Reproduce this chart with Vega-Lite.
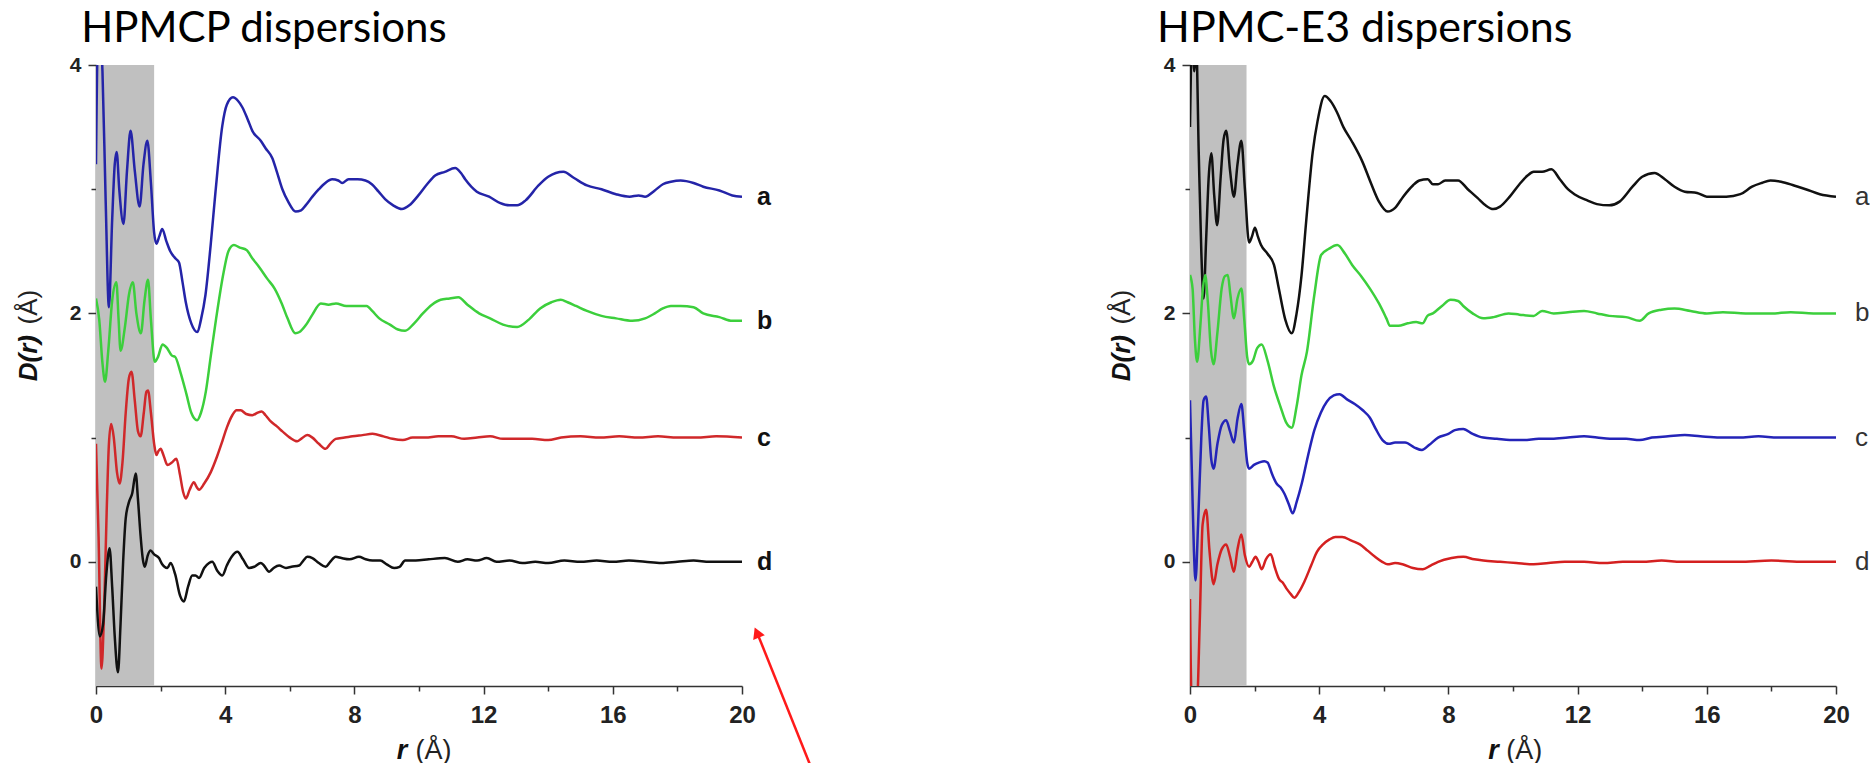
{
"$schema": "https://vega.github.io/schema/vega-lite/v6.json",
"padding": {"left": 16, "top": 7, "right": 0, "bottom": 0},
"bounds": "flush",
"spacing": 448,
"background": "white",
"resolve": {"scale": {"color": "independent"}},
"config": {
  "view": {"stroke": null},
  "axis": {"grid": false, "domainColor": "#333", "domainWidth": 1.5, "tickColor": "#333", "tickWidth": 1.5, "labelFont": "Liberation Sans", "labelFontWeight": "bold", "labelColor": "#222"},
  "text": {"font": "Liberation Sans"}
},
"datasets": {
"left": [
{"s":"a","r":0,"d":3.2},{"s":"a","r":0.06,"d":4.25},{"s":"a","r":0.12,"d":4.3},{"s":"a","r":0.2,"d":3.95},{"s":"a","r":0.3,"d":2.9},{"s":"a","r":0.4,"d":2.05},{"s":"a","r":0.5,"d":2.75},{"s":"a","r":0.58,"d":3.2},{"s":"a","r":0.64,"d":3.3},{"s":"a","r":0.72,"d":3.0},{"s":"a","r":0.85,"d":2.72},{"s":"a","r":0.96,"d":3.15},{"s":"a","r":1.07,"d":3.47},{"s":"a","r":1.2,"d":3.15},{"s":"a","r":1.35,"d":2.86},{"s":"a","r":1.47,"d":3.2},{"s":"a","r":1.59,"d":3.39},{"s":"a","r":1.7,"d":3.05},{"s":"a","r":1.8,"d":2.65},{"s":"a","r":1.87,"d":2.56},{"s":"a","r":1.96,"d":2.62},{"s":"a","r":2.05,"d":2.68},{"s":"a","r":2.18,"d":2.58},{"s":"a","r":2.3,"d":2.5},{"s":"a","r":2.47,"d":2.44},{"s":"a","r":2.57,"d":2.41},{"s":"a","r":2.68,"d":2.25},{"s":"a","r":2.78,"d":2.09},{"s":"a","r":2.95,"d":1.92},{"s":"a","r":3.14,"d":1.85},{"s":"a","r":3.25,"d":1.95},{"s":"a","r":3.39,"d":2.15},{"s":"a","r":3.55,"d":2.55},{"s":"a","r":3.7,"d":2.98},{"s":"a","r":3.91,"d":3.51},{"s":"a","r":4.05,"d":3.68},{"s":"a","r":4.24,"d":3.74},{"s":"a","r":4.4,"d":3.71},{"s":"a","r":4.53,"d":3.66},{"s":"a","r":4.7,"d":3.56},{"s":"a","r":4.84,"d":3.47},{"s":"a","r":5.1,"d":3.39},{"s":"a","r":5.25,"d":3.33},{"s":"a","r":5.46,"d":3.25},{"s":"a","r":5.6,"d":3.14},{"s":"a","r":5.77,"d":3.0},{"s":"a","r":5.95,"d":2.9},{"s":"a","r":6.18,"d":2.82},{"s":"a","r":6.35,"d":2.83},{"s":"a","r":6.49,"d":2.87},{"s":"a","r":6.7,"d":2.94},{"s":"a","r":6.9,"d":3.0},{"s":"a","r":7.1,"d":3.05},{"s":"a","r":7.31,"d":3.08},{"s":"a","r":7.5,"d":3.07},{"s":"a","r":7.62,"d":3.05},{"s":"a","r":7.82,"d":3.08},{"s":"a","r":8.1,"d":3.08},{"s":"a","r":8.34,"d":3.07},{"s":"a","r":8.54,"d":3.04},{"s":"a","r":8.75,"d":2.98},{"s":"a","r":8.95,"d":2.92},{"s":"a","r":9.2,"d":2.87},{"s":"a","r":9.47,"d":2.84},{"s":"a","r":9.7,"d":2.87},{"s":"a","r":9.98,"d":2.95},{"s":"a","r":10.25,"d":3.04},{"s":"a","r":10.5,"d":3.11},{"s":"a","r":10.8,"d":3.14},{"s":"a","r":11.12,"d":3.17},{"s":"a","r":11.3,"d":3.13},{"s":"a","r":11.43,"d":3.08},{"s":"a","r":11.79,"d":2.98},{"s":"a","r":12.17,"d":2.94},{"s":"a","r":12.5,"d":2.89},{"s":"a","r":12.8,"d":2.87},{"s":"a","r":13.04,"d":2.87},{"s":"a","r":13.3,"d":2.91},{"s":"a","r":13.7,"d":3.03},{"s":"a","r":14.0,"d":3.1},{"s":"a","r":14.47,"d":3.14},{"s":"a","r":14.8,"d":3.09},{"s":"a","r":15.2,"d":3.03},{"s":"a","r":15.65,"d":3.0},{"s":"a","r":16.1,"d":2.96},{"s":"a","r":16.52,"d":2.94},{"s":"a","r":16.8,"d":2.95},{"s":"a","r":17.0,"d":2.94},{"s":"a","r":17.3,"d":2.99},{"s":"a","r":17.55,"d":3.04},{"s":"a","r":17.8,"d":3.06},{"s":"a","r":18.1,"d":3.07},{"s":"a","r":18.5,"d":3.05},{"s":"a","r":18.8,"d":3.02},{"s":"a","r":19.3,"d":2.99},{"s":"a","r":19.7,"d":2.95},{"s":"a","r":20,"d":2.94},
{"s":"b","r":0,"d":2.12},{"s":"b","r":0.1,"d":1.95},{"s":"b","r":0.2,"d":1.6},{"s":"b","r":0.28,"d":1.45},{"s":"b","r":0.38,"d":1.7},{"s":"b","r":0.5,"d":2.1},{"s":"b","r":0.63,"d":2.25},{"s":"b","r":0.7,"d":1.95},{"s":"b","r":0.76,"d":1.7},{"s":"b","r":0.9,"d":1.9},{"s":"b","r":1.02,"d":2.15},{"s":"b","r":1.14,"d":2.25},{"s":"b","r":1.25,"d":2.0},{"s":"b","r":1.39,"d":1.84},{"s":"b","r":1.5,"d":2.1},{"s":"b","r":1.61,"d":2.27},{"s":"b","r":1.7,"d":1.95},{"s":"b","r":1.82,"d":1.61},{"s":"b","r":1.92,"d":1.65},{"s":"b","r":2.06,"d":1.75},{"s":"b","r":2.2,"d":1.72},{"s":"b","r":2.35,"d":1.66},{"s":"b","r":2.45,"d":1.65},{"s":"b","r":2.61,"d":1.53},{"s":"b","r":2.8,"d":1.35},{"s":"b","r":2.95,"d":1.2},{"s":"b","r":3.13,"d":1.14},{"s":"b","r":3.25,"d":1.2},{"s":"b","r":3.4,"d":1.37},{"s":"b","r":3.55,"d":1.65},{"s":"b","r":3.72,"d":1.96},{"s":"b","r":3.95,"d":2.33},{"s":"b","r":4.1,"d":2.5},{"s":"b","r":4.27,"d":2.55},{"s":"b","r":4.45,"d":2.53},{"s":"b","r":4.66,"d":2.51},{"s":"b","r":4.85,"d":2.44},{"s":"b","r":5.06,"d":2.37},{"s":"b","r":5.3,"d":2.28},{"s":"b","r":5.53,"d":2.2},{"s":"b","r":5.75,"d":2.08},{"s":"b","r":5.93,"d":1.96},{"s":"b","r":6.17,"d":1.84},{"s":"b","r":6.3,"d":1.85},{"s":"b","r":6.48,"d":1.9},{"s":"b","r":6.7,"d":1.99},{"s":"b","r":6.96,"d":2.08},{"s":"b","r":7.2,"d":2.07},{"s":"b","r":7.43,"d":2.08},{"s":"b","r":7.75,"d":2.06},{"s":"b","r":8.06,"d":2.06},{"s":"b","r":8.38,"d":2.06},{"s":"b","r":8.55,"d":2.02},{"s":"b","r":8.77,"d":1.96},{"s":"b","r":9.1,"d":1.91},{"s":"b","r":9.35,"d":1.87},{"s":"b","r":9.57,"d":1.86},{"s":"b","r":9.85,"d":1.92},{"s":"b","r":10.12,"d":2.0},{"s":"b","r":10.4,"d":2.07},{"s":"b","r":10.67,"d":2.11},{"s":"b","r":10.95,"d":2.12},{"s":"b","r":11.22,"d":2.13},{"s":"b","r":11.5,"d":2.07},{"s":"b","r":11.86,"d":2.0},{"s":"b","r":12.2,"d":1.96},{"s":"b","r":12.6,"d":1.91},{"s":"b","r":13.04,"d":1.89},{"s":"b","r":13.4,"d":1.95},{"s":"b","r":13.75,"d":2.04},{"s":"b","r":14.1,"d":2.09},{"s":"b","r":14.39,"d":2.11},{"s":"b","r":14.6,"d":2.09},{"s":"b","r":14.86,"d":2.06},{"s":"b","r":15.2,"d":2.02},{"s":"b","r":15.65,"d":1.98},{"s":"b","r":16.1,"d":1.96},{"s":"b","r":16.6,"d":1.94},{"s":"b","r":17.0,"d":1.96},{"s":"b","r":17.3,"d":2.0},{"s":"b","r":17.55,"d":2.04},{"s":"b","r":17.8,"d":2.06},{"s":"b","r":18.1,"d":2.06},{"s":"b","r":18.5,"d":2.05},{"s":"b","r":18.8,"d":2.0},{"s":"b","r":19.3,"d":1.97},{"s":"b","r":19.7,"d":1.94},{"s":"b","r":20,"d":1.94},
{"s":"c","r":0,"d":0.95},{"s":"c","r":0.08,"d":0.2},{"s":"c","r":0.17,"d":-0.86},{"s":"c","r":0.25,"d":-0.4},{"s":"c","r":0.33,"d":0.4},{"s":"c","r":0.4,"d":0.95},{"s":"c","r":0.47,"d":1.11},{"s":"c","r":0.55,"d":1.0},{"s":"c","r":0.65,"d":0.72},{"s":"c","r":0.73,"d":0.63},{"s":"c","r":0.82,"d":0.8},{"s":"c","r":0.92,"d":1.2},{"s":"c","r":1.02,"d":1.48},{"s":"c","r":1.1,"d":1.53},{"s":"c","r":1.2,"d":1.3},{"s":"c","r":1.3,"d":1.05},{"s":"c","r":1.38,"d":1.01},{"s":"c","r":1.48,"d":1.2},{"s":"c","r":1.56,"d":1.37},{"s":"c","r":1.61,"d":1.38},{"s":"c","r":1.7,"d":1.2},{"s":"c","r":1.8,"d":0.95},{"s":"c","r":1.87,"d":0.86},{"s":"c","r":1.93,"d":0.89},{"s":"c","r":2.0,"d":0.91},{"s":"c","r":2.1,"d":0.85},{"s":"c","r":2.21,"d":0.78},{"s":"c","r":2.35,"d":0.8},{"s":"c","r":2.49,"d":0.83},{"s":"c","r":2.6,"d":0.7},{"s":"c","r":2.7,"d":0.56},{"s":"c","r":2.78,"d":0.51},{"s":"c","r":2.9,"d":0.58},{"s":"c","r":3.03,"d":0.64},{"s":"c","r":3.12,"d":0.6},{"s":"c","r":3.19,"d":0.58},{"s":"c","r":3.35,"d":0.63},{"s":"c","r":3.55,"d":0.72},{"s":"c","r":3.75,"d":0.85},{"s":"c","r":3.91,"d":0.97},{"s":"c","r":4.05,"d":1.08},{"s":"c","r":4.22,"d":1.18},{"s":"c","r":4.35,"d":1.22},{"s":"c","r":4.48,"d":1.22},{"s":"c","r":4.65,"d":1.19},{"s":"c","r":4.84,"d":1.18},{"s":"c","r":5.0,"d":1.2},{"s":"c","r":5.13,"d":1.21},{"s":"c","r":5.25,"d":1.18},{"s":"c","r":5.41,"d":1.13},{"s":"c","r":5.6,"d":1.09},{"s":"c","r":5.77,"d":1.05},{"s":"c","r":6.0,"d":1.0},{"s":"c","r":6.23,"d":0.97},{"s":"c","r":6.35,"d":0.99},{"s":"c","r":6.54,"d":1.02},{"s":"c","r":6.7,"d":1.0},{"s":"c","r":6.9,"d":0.95},{"s":"c","r":7.11,"d":0.91},{"s":"c","r":7.25,"d":0.95},{"s":"c","r":7.42,"d":0.99},{"s":"c","r":7.7,"d":1.0},{"s":"c","r":7.94,"d":1.01},{"s":"c","r":8.25,"d":1.02},{"s":"c","r":8.56,"d":1.03},{"s":"c","r":8.9,"d":1.01},{"s":"c","r":9.18,"d":0.99},{"s":"c","r":9.5,"d":0.98},{"s":"c","r":9.8,"d":1.0},{"s":"c","r":10.2,"d":1.0},{"s":"c","r":10.6,"d":1.01},{"s":"c","r":11.0,"d":1.01},{"s":"c","r":11.4,"d":0.99},{"s":"c","r":11.8,"d":1.0},{"s":"c","r":12.2,"d":1.01},{"s":"c","r":12.6,"d":0.99},{"s":"c","r":13.0,"d":0.99},{"s":"c","r":13.5,"d":0.99},{"s":"c","r":14.0,"d":0.98},{"s":"c","r":14.4,"d":1.0},{"s":"c","r":15.0,"d":1.01},{"s":"c","r":15.6,"d":1.0},{"s":"c","r":16.2,"d":1.01},{"s":"c","r":16.8,"d":1.0},{"s":"c","r":17.4,"d":1.01},{"s":"c","r":18.0,"d":1.0},{"s":"c","r":18.6,"d":1.0},{"s":"c","r":19.2,"d":1.01},{"s":"c","r":20,"d":1.0},
{"s":"d","r":0,"d":-0.2},{"s":"d","r":0.12,"d":-0.6},{"s":"d","r":0.22,"d":-0.5},{"s":"d","r":0.32,"d":-0.1},{"s":"d","r":0.42,"d":0.11},{"s":"d","r":0.5,"d":-0.2},{"s":"d","r":0.58,"d":-0.6},{"s":"d","r":0.68,"d":-0.89},{"s":"d","r":0.76,"d":-0.5},{"s":"d","r":0.84,"d":0.0},{"s":"d","r":0.92,"d":0.35},{"s":"d","r":1.02,"d":0.48},{"s":"d","r":1.12,"d":0.55},{"s":"d","r":1.23,"d":0.71},{"s":"d","r":1.3,"d":0.5},{"s":"d","r":1.38,"d":0.21},{"s":"d","r":1.45,"d":0.02},{"s":"d","r":1.51,"d":-0.04},{"s":"d","r":1.6,"d":0.05},{"s":"d","r":1.69,"d":0.09},{"s":"d","r":1.8,"d":0.06},{"s":"d","r":1.95,"d":0.03},{"s":"d","r":2.05,"d":-0.02},{"s":"d","r":2.12,"d":-0.04},{"s":"d","r":2.21,"d":-0.05},{"s":"d","r":2.31,"d":-0.01},{"s":"d","r":2.45,"d":-0.1},{"s":"d","r":2.6,"d":-0.27},{"s":"d","r":2.72,"d":-0.32},{"s":"d","r":2.85,"d":-0.2},{"s":"d","r":2.98,"d":-0.11},{"s":"d","r":3.08,"d":-0.11},{"s":"d","r":3.19,"d":-0.13},{"s":"d","r":3.35,"d":-0.05},{"s":"d","r":3.5,"d":-0.01},{"s":"d","r":3.6,"d":0.0},{"s":"d","r":3.75,"d":-0.07},{"s":"d","r":3.91,"d":-0.11},{"s":"d","r":4.05,"d":-0.03},{"s":"d","r":4.2,"d":0.04},{"s":"d","r":4.38,"d":0.08},{"s":"d","r":4.55,"d":0.02},{"s":"d","r":4.74,"d":-0.05},{"s":"d","r":4.9,"d":-0.04},{"s":"d","r":5.1,"d":-0.01},{"s":"d","r":5.2,"d":-0.03},{"s":"d","r":5.36,"d":-0.08},{"s":"d","r":5.5,"d":-0.05},{"s":"d","r":5.67,"d":-0.03},{"s":"d","r":5.88,"d":-0.05},{"s":"d","r":6.05,"d":-0.04},{"s":"d","r":6.29,"d":-0.03},{"s":"d","r":6.42,"d":0.01},{"s":"d","r":6.54,"d":0.04},{"s":"d","r":6.7,"d":0.03},{"s":"d","r":6.9,"d":-0.01},{"s":"d","r":7.11,"d":-0.04},{"s":"d","r":7.25,"d":0.0},{"s":"d","r":7.42,"d":0.04},{"s":"d","r":7.6,"d":0.03},{"s":"d","r":7.85,"d":0.02},{"s":"d","r":8.14,"d":0.04},{"s":"d","r":8.35,"d":0.02},{"s":"d","r":8.56,"d":0.01},{"s":"d","r":8.8,"d":0.01},{"s":"d","r":9.0,"d":-0.02},{"s":"d","r":9.23,"d":-0.05},{"s":"d","r":9.4,"d":-0.04},{"s":"d","r":9.57,"d":0.01},{"s":"d","r":9.9,"d":0.01},{"s":"d","r":10.3,"d":0.02},{"s":"d","r":10.8,"d":0.03},{"s":"d","r":11.2,"d":0.0},{"s":"d","r":11.5,"d":0.02},{"s":"d","r":11.8,"d":0.01},{"s":"d","r":12.1,"d":0.03},{"s":"d","r":12.4,"d":0.0},{"s":"d","r":12.8,"d":0.01},{"s":"d","r":13.2,"d":-0.01},{"s":"d","r":13.6,"d":0.0},{"s":"d","r":14.0,"d":-0.01},{"s":"d","r":14.5,"d":0.01},{"s":"d","r":15.0,"d":0.0},{"s":"d","r":15.5,"d":0.01},{"s":"d","r":16.0,"d":0.0},{"s":"d","r":16.5,"d":0.01},{"s":"d","r":17.0,"d":0.0},{"s":"d","r":17.5,"d":-0.01},{"s":"d","r":18.0,"d":0.0},{"s":"d","r":18.5,"d":0.01},{"s":"d","r":19.0,"d":0.0},{"s":"d","r":19.5,"d":0.0},{"s":"d","r":20,"d":0.0}
],
"right": [
{"s":"a","r":0,"d":3.5},{"s":"a","r":0.07,"d":4.3},{"s":"a","r":0.13,"d":3.95},{"s":"a","r":0.19,"d":4.2},{"s":"a","r":0.27,"d":3.3},{"s":"a","r":0.35,"d":2.5},{"s":"a","r":0.42,"d":2.12},{"s":"a","r":0.5,"d":2.6},{"s":"a","r":0.58,"d":3.1},{"s":"a","r":0.66,"d":3.29},{"s":"a","r":0.75,"d":2.95},{"s":"a","r":0.84,"d":2.71},{"s":"a","r":0.95,"d":3.1},{"s":"a","r":1.04,"d":3.4},{"s":"a","r":1.12,"d":3.47},{"s":"a","r":1.24,"d":3.15},{"s":"a","r":1.36,"d":2.94},{"s":"a","r":1.47,"d":3.2},{"s":"a","r":1.59,"d":3.39},{"s":"a","r":1.7,"d":3.0},{"s":"a","r":1.83,"d":2.57},{"s":"a","r":1.92,"d":2.62},{"s":"a","r":2.01,"d":2.69},{"s":"a","r":2.1,"d":2.62},{"s":"a","r":2.2,"d":2.55},{"s":"a","r":2.4,"d":2.48},{"s":"a","r":2.6,"d":2.39},{"s":"a","r":2.75,"d":2.2},{"s":"a","r":2.95,"d":1.95},{"s":"a","r":3.15,"d":1.84},{"s":"a","r":3.3,"d":2.0},{"s":"a","r":3.45,"d":2.3},{"s":"a","r":3.6,"d":2.75},{"s":"a","r":3.8,"d":3.3},{"s":"a","r":3.95,"d":3.55},{"s":"a","r":4.17,"d":3.75},{"s":"a","r":4.35,"d":3.71},{"s":"a","r":4.55,"d":3.62},{"s":"a","r":4.75,"d":3.5},{"s":"a","r":5.0,"d":3.39},{"s":"a","r":5.34,"d":3.22},{"s":"a","r":5.6,"d":3.05},{"s":"a","r":5.85,"d":2.9},{"s":"a","r":6.12,"d":2.82},{"s":"a","r":6.35,"d":2.85},{"s":"a","r":6.6,"d":2.94},{"s":"a","r":6.9,"d":3.03},{"s":"a","r":7.1,"d":3.07},{"s":"a","r":7.36,"d":3.08},{"s":"a","r":7.52,"d":3.04},{"s":"a","r":7.68,"d":3.04},{"s":"a","r":7.9,"d":3.07},{"s":"a","r":8.3,"d":3.07},{"s":"a","r":8.6,"d":3.0},{"s":"a","r":8.9,"d":2.93},{"s":"a","r":9.15,"d":2.87},{"s":"a","r":9.39,"d":2.84},{"s":"a","r":9.6,"d":2.86},{"s":"a","r":9.9,"d":2.94},{"s":"a","r":10.2,"d":3.04},{"s":"a","r":10.45,"d":3.11},{"s":"a","r":10.64,"d":3.14},{"s":"a","r":10.9,"d":3.14},{"s":"a","r":11.19,"d":3.16},{"s":"a","r":11.45,"d":3.08},{"s":"a","r":11.7,"d":3.0},{"s":"a","r":11.9,"d":2.96},{"s":"a","r":12.3,"d":2.91},{"s":"a","r":12.6,"d":2.88},{"s":"a","r":12.98,"d":2.87},{"s":"a","r":13.3,"d":2.9},{"s":"a","r":13.7,"d":3.02},{"s":"a","r":14.0,"d":3.1},{"s":"a","r":14.38,"d":3.13},{"s":"a","r":14.7,"d":3.08},{"s":"a","r":15.0,"d":3.02},{"s":"a","r":15.32,"d":2.98},{"s":"a","r":15.7,"d":2.97},{"s":"a","r":16.0,"d":2.94},{"s":"a","r":16.26,"d":2.94},{"s":"a","r":16.6,"d":2.94},{"s":"a","r":17.04,"d":2.96},{"s":"a","r":17.4,"d":3.02},{"s":"a","r":17.7,"d":3.05},{"s":"a","r":17.97,"d":3.07},{"s":"a","r":18.3,"d":3.06},{"s":"a","r":18.7,"d":3.03},{"s":"a","r":19.06,"d":3.0},{"s":"a","r":19.5,"d":2.96},{"s":"a","r":20,"d":2.94},
{"s":"b","r":0,"d":2.31},{"s":"b","r":0.08,"d":2.2},{"s":"b","r":0.15,"d":1.8},{"s":"b","r":0.22,"d":1.61},{"s":"b","r":0.32,"d":1.9},{"s":"b","r":0.4,"d":2.2},{"s":"b","r":0.47,"d":2.31},{"s":"b","r":0.55,"d":2.1},{"s":"b","r":0.65,"d":1.7},{"s":"b","r":0.73,"d":1.59},{"s":"b","r":0.85,"d":1.85},{"s":"b","r":0.98,"d":2.2},{"s":"b","r":1.08,"d":2.3},{"s":"b","r":1.17,"d":2.31},{"s":"b","r":1.25,"d":2.15},{"s":"b","r":1.36,"d":1.96},{"s":"b","r":1.47,"d":2.12},{"s":"b","r":1.59,"d":2.2},{"s":"b","r":1.68,"d":1.95},{"s":"b","r":1.77,"d":1.65},{"s":"b","r":1.83,"d":1.59},{"s":"b","r":1.95,"d":1.62},{"s":"b","r":2.08,"d":1.72},{"s":"b","r":2.22,"d":1.75},{"s":"b","r":2.4,"d":1.62},{"s":"b","r":2.6,"d":1.41},{"s":"b","r":2.8,"d":1.25},{"s":"b","r":2.98,"d":1.12},{"s":"b","r":3.15,"d":1.08},{"s":"b","r":3.3,"d":1.25},{"s":"b","r":3.45,"d":1.5},{"s":"b","r":3.62,"d":1.69},{"s":"b","r":3.85,"d":2.15},{"s":"b","r":4.06,"d":2.47},{"s":"b","r":4.3,"d":2.52},{"s":"b","r":4.56,"d":2.55},{"s":"b","r":4.8,"d":2.48},{"s":"b","r":5.02,"d":2.39},{"s":"b","r":5.3,"d":2.3},{"s":"b","r":5.57,"d":2.2},{"s":"b","r":5.85,"d":2.08},{"s":"b","r":6.08,"d":1.96},{"s":"b","r":6.19,"d":1.9},{"s":"b","r":6.45,"d":1.9},{"s":"b","r":6.74,"d":1.92},{"s":"b","r":7.0,"d":1.93},{"s":"b","r":7.2,"d":1.92},{"s":"b","r":7.35,"d":1.98},{"s":"b","r":7.52,"d":2.0},{"s":"b","r":7.8,"d":2.06},{"s":"b","r":8.07,"d":2.11},{"s":"b","r":8.3,"d":2.1},{"s":"b","r":8.46,"d":2.06},{"s":"b","r":8.75,"d":2.0},{"s":"b","r":9.08,"d":1.96},{"s":"b","r":9.4,"d":1.97},{"s":"b","r":9.86,"d":2.0},{"s":"b","r":10.2,"d":1.99},{"s":"b","r":10.64,"d":1.98},{"s":"b","r":10.9,"d":2.02},{"s":"b","r":11.26,"d":2.0},{"s":"b","r":11.7,"d":2.01},{"s":"b","r":12.2,"d":2.02},{"s":"b","r":12.6,"d":2.0},{"s":"b","r":12.98,"d":1.98},{"s":"b","r":13.5,"d":1.97},{"s":"b","r":13.92,"d":1.94},{"s":"b","r":14.2,"d":2.0},{"s":"b","r":14.6,"d":2.03},{"s":"b","r":15.0,"d":2.04},{"s":"b","r":15.5,"d":2.02},{"s":"b","r":16.0,"d":2.0},{"s":"b","r":16.5,"d":2.01},{"s":"b","r":17.2,"d":2.0},{"s":"b","r":18.0,"d":2.0},{"s":"b","r":18.6,"d":2.01},{"s":"b","r":19.3,"d":2.0},{"s":"b","r":20,"d":2.0},
{"s":"c","r":0,"d":1.3},{"s":"c","r":0.06,"d":0.7},{"s":"c","r":0.12,"d":0.1},{"s":"c","r":0.17,"d":-0.15},{"s":"c","r":0.25,"d":0.3},{"s":"c","r":0.35,"d":1.0},{"s":"c","r":0.42,"d":1.3},{"s":"c","r":0.5,"d":1.33},{"s":"c","r":0.58,"d":1.1},{"s":"c","r":0.66,"d":0.82},{"s":"c","r":0.73,"d":0.75},{"s":"c","r":0.85,"d":0.95},{"s":"c","r":0.98,"d":1.1},{"s":"c","r":1.12,"d":1.14},{"s":"c","r":1.24,"d":1.05},{"s":"c","r":1.36,"d":0.96},{"s":"c","r":1.47,"d":1.15},{"s":"c","r":1.59,"d":1.27},{"s":"c","r":1.68,"d":1.05},{"s":"c","r":1.77,"d":0.8},{"s":"c","r":1.83,"d":0.75},{"s":"c","r":1.98,"d":0.78},{"s":"c","r":2.15,"d":0.8},{"s":"c","r":2.3,"d":0.81},{"s":"c","r":2.4,"d":0.8},{"s":"c","r":2.55,"d":0.7},{"s":"c","r":2.68,"d":0.63},{"s":"c","r":2.8,"d":0.6},{"s":"c","r":2.92,"d":0.55},{"s":"c","r":3.05,"d":0.47},{"s":"c","r":3.18,"d":0.39},{"s":"c","r":3.3,"d":0.48},{"s":"c","r":3.46,"d":0.63},{"s":"c","r":3.65,"d":0.85},{"s":"c","r":3.85,"d":1.06},{"s":"c","r":4.05,"d":1.2},{"s":"c","r":4.24,"d":1.29},{"s":"c","r":4.45,"d":1.34},{"s":"c","r":4.63,"d":1.35},{"s":"c","r":4.85,"d":1.31},{"s":"c","r":5.1,"d":1.27},{"s":"c","r":5.35,"d":1.22},{"s":"c","r":5.57,"d":1.16},{"s":"c","r":5.75,"d":1.07},{"s":"c","r":5.96,"d":0.98},{"s":"c","r":6.15,"d":0.95},{"s":"c","r":6.35,"d":0.96},{"s":"c","r":6.66,"d":0.96},{"s":"c","r":6.95,"d":0.92},{"s":"c","r":7.18,"d":0.9},{"s":"c","r":7.4,"d":0.94},{"s":"c","r":7.68,"d":1.0},{"s":"c","r":8.0,"d":1.03},{"s":"c","r":8.2,"d":1.06},{"s":"c","r":8.46,"d":1.07},{"s":"c","r":8.75,"d":1.03},{"s":"c","r":9.08,"d":1.0},{"s":"c","r":9.5,"d":0.99},{"s":"c","r":9.9,"d":0.98},{"s":"c","r":10.33,"d":0.98},{"s":"c","r":10.8,"d":0.99},{"s":"c","r":11.2,"d":0.99},{"s":"c","r":11.7,"d":1.0},{"s":"c","r":12.2,"d":1.01},{"s":"c","r":12.6,"d":1.0},{"s":"c","r":13.0,"d":0.99},{"s":"c","r":13.5,"d":0.99},{"s":"c","r":13.92,"d":0.98},{"s":"c","r":14.3,"d":1.0},{"s":"c","r":14.8,"d":1.01},{"s":"c","r":15.32,"d":1.02},{"s":"c","r":15.8,"d":1.01},{"s":"c","r":16.4,"d":1.0},{"s":"c","r":17.0,"d":1.0},{"s":"c","r":17.6,"d":1.01},{"s":"c","r":18.2,"d":1.0},{"s":"c","r":19.0,"d":1.0},{"s":"c","r":20,"d":1.0},
{"s":"d","r":0,"d":-0.3},{"s":"d","r":0.05,"d":-1.1},{"s":"d","r":0.22,"d":-1.1},{"s":"d","r":0.3,"d":-0.5},{"s":"d","r":0.39,"d":0.3},{"s":"d","r":0.5,"d":0.42},{"s":"d","r":0.6,"d":0.1},{"s":"d","r":0.68,"d":-0.12},{"s":"d","r":0.73,"d":-0.18},{"s":"d","r":0.85,"d":-0.02},{"s":"d","r":0.98,"d":0.1},{"s":"d","r":1.12,"d":0.14},{"s":"d","r":1.24,"d":0.04},{"s":"d","r":1.36,"d":-0.08},{"s":"d","r":1.47,"d":0.1},{"s":"d","r":1.59,"d":0.22},{"s":"d","r":1.7,"d":0.05},{"s":"d","r":1.83,"d":-0.04},{"s":"d","r":1.93,"d":0.0},{"s":"d","r":2.03,"d":0.04},{"s":"d","r":2.12,"d":0.0},{"s":"d","r":2.22,"d":-0.06},{"s":"d","r":2.35,"d":0.02},{"s":"d","r":2.5,"d":0.06},{"s":"d","r":2.62,"d":-0.04},{"s":"d","r":2.76,"d":-0.14},{"s":"d","r":2.88,"d":-0.17},{"s":"d","r":3.0,"d":-0.22},{"s":"d","r":3.12,"d":-0.26},{"s":"d","r":3.23,"d":-0.29},{"s":"d","r":3.38,"d":-0.24},{"s":"d","r":3.54,"d":-0.16},{"s":"d","r":3.75,"d":-0.03},{"s":"d","r":3.93,"d":0.08},{"s":"d","r":4.12,"d":0.14},{"s":"d","r":4.32,"d":0.18},{"s":"d","r":4.5,"d":0.2},{"s":"d","r":4.71,"d":0.2},{"s":"d","r":5.0,"d":0.17},{"s":"d","r":5.26,"d":0.14},{"s":"d","r":5.5,"d":0.09},{"s":"d","r":5.73,"d":0.04},{"s":"d","r":5.95,"d":0.0},{"s":"d","r":6.12,"d":-0.02},{"s":"d","r":6.35,"d":-0.01},{"s":"d","r":6.58,"d":-0.02},{"s":"d","r":6.9,"d":-0.05},{"s":"d","r":7.21,"d":-0.06},{"s":"d","r":7.45,"d":-0.03},{"s":"d","r":7.68,"d":0.0},{"s":"d","r":8.1,"d":0.03},{"s":"d","r":8.46,"d":0.04},{"s":"d","r":8.8,"d":0.02},{"s":"d","r":9.08,"d":0.01},{"s":"d","r":9.6,"d":0.0},{"s":"d","r":10.1,"d":-0.01},{"s":"d","r":10.64,"d":-0.02},{"s":"d","r":11.1,"d":-0.01},{"s":"d","r":11.6,"d":0.0},{"s":"d","r":12.2,"d":0.0},{"s":"d","r":12.8,"d":-0.01},{"s":"d","r":13.4,"d":0.0},{"s":"d","r":14.0,"d":0.0},{"s":"d","r":14.6,"d":0.01},{"s":"d","r":15.2,"d":0.0},{"s":"d","r":16.0,"d":0.0},{"s":"d","r":17.0,"d":0.0},{"s":"d","r":18.0,"d":0.01},{"s":"d","r":19.0,"d":0.0},{"s":"d","r":20,"d":0.0}
]
},
"hconcat": [
{
  "width": 646, "height": 621,
  "layer": [
    {"data": {"values": [{}]}, "mark": {"type": "rect", "color": "#c0c0c0"},
     "encoding": {
       "x": {"datum": 0, "type": "quantitative", "title": null, "scale": {"domain": [0, 20], "nice": false, "zero": false}},
       "x2": {"datum": 1.8},
       "y": {"datum": -1, "type": "quantitative", "title": null, "scale": {"domain": [-1, 4], "nice": false, "zero": false}},
       "y2": {"datum": 4}}},
    {"data": {"name": "left"}, "mark": {"type": "line", "clip": true, "strokeWidth": 2.5, "interpolate": "monotone"},
     "encoding": {
       "x": {"field": "r", "type": "quantitative", "title": null, "scale": {"domain": [0, 20], "nice": false, "zero": false},
             "axis": {"values": [0,2,4,6,8,10,12,14,16,18,20], "format": "d", "labelExpr": "datum.value % 4 === 0 ? datum.label : ''", "tickSize": {"condition": {"test": "datum.value % 4 === 0", "value": 8}, "value": 5}, "labelFontSize": 24, "labelPadding": 9, "labelFlush": false, "title": null}},
       "y": {"field": "d", "type": "quantitative", "title": null, "scale": {"domain": [-1, 4], "nice": false, "zero": false},
             "axis": {"values": [0,1,2,3,4], "format": "d", "labelExpr": "datum.value % 2 === 0 ? datum.label : ''", "tickSize": {"condition": {"test": "datum.value % 2 === 0", "value": 8}, "value": 5}, "labelFontSize": 21, "labelPadding": 7, "labelFlush": false, "title": null}},
       "color": {"field": "s", "type": "nominal", "legend": null, "scale": {"domain": ["a","b","c","d"], "range": ["#2424a8", "#3ccf3c", "#d0282a", "#111111"]}}}},
    {"data": {"name": "left"}, "transform": [{"filter": "datum.r === 20"}],
     "mark": {"type": "text", "align": "left", "baseline": "middle", "dx": 15, "fontSize": 25, "fontWeight": "bold", "color": "#111"},
     "encoding": {"x": {"field": "r", "type": "quantitative", "title": null}, "y": {"field": "d", "type": "quantitative", "title": null}, "text": {"field": "s"}}},
    {"data": {"values": [{}]}, "mark": {"type": "text", "text": "HPMCP dispersions", "align": "left", "baseline": "alphabetic", "font": "Lato", "fontSize": 42, "color": "#000"},
     "encoding": {"x": {"datum": -0.46, "type": "quantitative", "title": null}, "y": {"datum": 4.188, "type": "quantitative", "title": null}}},
    {"data": {"values": [{}]}, "mark": {"type": "text", "text": "D(r)", "angle": 270, "align": "center", "baseline": "middle", "fontSize": 26, "fontWeight": "bold", "fontStyle": "italic", "color": "#111"},
     "encoding": {"x": {"datum": -2.06, "type": "quantitative", "title": null}, "y": {"datum": 1.64, "type": "quantitative", "title": null}}},
    {"data": {"values": [{}]}, "mark": {"type": "text", "text": "(Å)", "angle": 270, "align": "center", "baseline": "middle", "fontSize": 26, "color": "#222"},
     "encoding": {"x": {"datum": -2.06, "type": "quantitative", "title": null}, "y": {"datum": 2.05, "type": "quantitative", "title": null}}},
    {"data": {"values": [{}]}, "mark": {"type": "text", "text": "r", "align": "center", "baseline": "middle", "fontSize": 27, "fontWeight": "bold", "fontStyle": "italic", "color": "#111"},
     "encoding": {"x": {"datum": 9.47, "type": "quantitative", "title": null}, "y": {"datum": -1.52, "type": "quantitative", "title": null}}},
    {"data": {"values": [{}]}, "mark": {"type": "text", "text": "(Å)", "align": "center", "baseline": "middle", "fontSize": 27, "color": "#222"},
     "encoding": {"x": {"datum": 10.45, "type": "quantitative", "title": null}, "y": {"datum": -1.52, "type": "quantitative", "title": null}}},
    {"data": {"values": [{}]}, "mark": {"type": "rule", "color": "#ff1a1a", "strokeWidth": 2.5},
     "encoding": {"x": {"datum": 20.45, "type": "quantitative", "title": null}, "y": {"datum": -0.56, "type": "quantitative", "title": null}, "x2": {"datum": 22.1}, "y2": {"datum": -1.63}}},
    {"data": {"values": [{}]}, "mark": {"type": "point", "shape": "triangle-up", "filled": true, "opacity": 1, "size": 160, "angle": 337, "color": "#ff1a1a"},
     "encoding": {"x": {"datum": 20.46, "type": "quantitative", "title": null}, "y": {"datum": -0.57, "type": "quantitative", "title": null}}}
  ]
},
{
  "width": 646, "height": 621,
  "layer": [
    {"data": {"values": [{}]}, "mark": {"type": "rect", "color": "#c0c0c0"},
     "encoding": {
       "x": {"datum": 0, "type": "quantitative", "title": null, "scale": {"domain": [0, 20], "nice": false, "zero": false}},
       "x2": {"datum": 1.75},
       "y": {"datum": -1, "type": "quantitative", "title": null, "scale": {"domain": [-1, 4], "nice": false, "zero": false}},
       "y2": {"datum": 4}}},
    {"data": {"name": "right"}, "mark": {"type": "line", "clip": true, "strokeWidth": 2.5, "interpolate": "monotone"},
     "encoding": {
       "x": {"field": "r", "type": "quantitative", "title": null, "scale": {"domain": [0, 20], "nice": false, "zero": false},
             "axis": {"values": [0,2,4,6,8,10,12,14,16,18,20], "format": "d", "labelExpr": "datum.value % 4 === 0 ? datum.label : ''", "tickSize": {"condition": {"test": "datum.value % 4 === 0", "value": 8}, "value": 5}, "labelFontSize": 24, "labelPadding": 9, "labelFlush": false, "title": null}},
       "y": {"field": "d", "type": "quantitative", "title": null, "scale": {"domain": [-1, 4], "nice": false, "zero": false},
             "axis": {"values": [0,1,2,3,4], "format": "d", "labelExpr": "datum.value % 2 === 0 ? datum.label : ''", "tickSize": {"condition": {"test": "datum.value % 2 === 0", "value": 8}, "value": 5}, "labelFontSize": 21, "labelPadding": 7, "labelFlush": false, "title": null}},
       "color": {"field": "s", "type": "nominal", "legend": null, "scale": {"domain": ["a","b","c","d"], "range": ["#111111", "#3ccf3c", "#2424b8", "#d42020"]}}}},
    {"data": {"name": "right"}, "transform": [{"filter": "datum.r === 20"}],
     "mark": {"type": "text", "align": "left", "baseline": "middle", "dx": 19, "fontSize": 26, "color": "#333"},
     "encoding": {"x": {"field": "r", "type": "quantitative", "title": null}, "y": {"field": "d", "type": "quantitative", "title": null}, "text": {"field": "s"}}},
    {"data": {"values": [{}]}, "mark": {"type": "text", "text": "HPMC-E3 dispersions", "align": "left", "baseline": "alphabetic", "font": "Lato", "fontSize": 43, "color": "#000"},
     "encoding": {"x": {"datum": -1.02, "type": "quantitative", "title": null}, "y": {"datum": 4.188, "type": "quantitative", "title": null}}},
    {"data": {"values": [{}]}, "mark": {"type": "text", "text": "D(r)", "angle": 270, "align": "center", "baseline": "middle", "fontSize": 26, "fontWeight": "bold", "fontStyle": "italic", "color": "#111"},
     "encoding": {"x": {"datum": -2.1, "type": "quantitative", "title": null}, "y": {"datum": 1.64, "type": "quantitative", "title": null}}},
    {"data": {"values": [{}]}, "mark": {"type": "text", "text": "(Å)", "angle": 270, "align": "center", "baseline": "middle", "fontSize": 26, "color": "#222"},
     "encoding": {"x": {"datum": -2.1, "type": "quantitative", "title": null}, "y": {"datum": 2.05, "type": "quantitative", "title": null}}},
    {"data": {"values": [{}]}, "mark": {"type": "text", "text": "r", "align": "center", "baseline": "middle", "fontSize": 27, "fontWeight": "bold", "fontStyle": "italic", "color": "#111"},
     "encoding": {"x": {"datum": 9.4, "type": "quantitative", "title": null}, "y": {"datum": -1.52, "type": "quantitative", "title": null}}},
    {"data": {"values": [{}]}, "mark": {"type": "text", "text": "(Å)", "align": "center", "baseline": "middle", "fontSize": 27, "color": "#222"},
     "encoding": {"x": {"datum": 10.35, "type": "quantitative", "title": null}, "y": {"datum": -1.52, "type": "quantitative", "title": null}}}
  ]
}
]
}
